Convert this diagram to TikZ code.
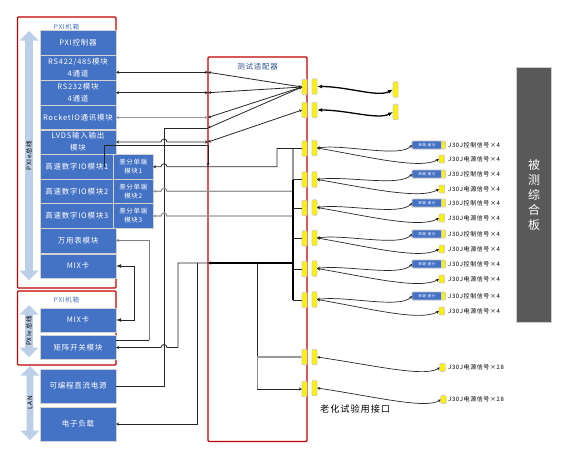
\documentclass[tikz,border=0pt]{standalone}
\usepackage{fontspec}
\setmainfont{Noto Sans CJK SC}[LetterSpace=10]
\usepackage{tikz}
\usetikzlibrary{shapes.arrows,arrows.meta}
\definecolor{modblue}{HTML}{4472C4}
\definecolor{busblue}{HTML}{BBCFE9}
\definecolor{boxred}{HTML}{C00000}
\definecolor{dutgray}{HTML}{595959}

\begin{document}
\begin{tikzpicture}[x=1pt, y=-1pt, >={Stealth[length=3pt,width=3pt]},
  redbox/.style={draw=boxred, line width=1.2pt, rounded corners=1pt, inner sep=0, outer sep=0},
  module/.style={draw=gray!35, line width=0.7pt, fill=modblue, text=white, align=center, inner sep=0, outer sep=0,
    minimum width=76pt, font=\fontsize{7.5}{12}\selectfont},
  diffbox/.style={module, minimum width=39.5pt, minimum height=24.5pt, font=\fontsize{6.5}{9}\selectfont},
  busarrow/.style={double arrow, fill=busblue, rotate=90, inner sep=0, minimum width=19pt, double arrow head extend=4.5pt,
    font=\fontsize{6.5}{8}\selectfont},
  yellowbar/.style={draw=gray!40, line width=0.7pt, fill=yellow, rounded corners=1pt, inner sep=0, outer sep=0, minimum width=5pt, minimum height=15.5pt},
  smallbar/.style={yellowbar, minimum width=5.5pt, minimum height=8pt},
  tailbar/.style={yellowbar, minimum width=4pt, minimum height=8pt},
  convbox/.style={draw=gray!50, line width=0.8pt, fill=modblue, text=white, rounded corners=1pt, inner sep=0, outer sep=0,
    minimum width=30pt, minimum height=8pt, font=\fontsize{3.6}{4}\selectfont},
  siglabel/.style={anchor=west, inner sep=0, font=\fontsize{6}{7}\selectfont},
  title/.style={inner sep=0, text=modblue, font=\fontsize{6.5}{8}\selectfont},
  wire/.style={black!85, line width=0.8pt},
  graywire/.style={gray!80, line width=1.2pt},
  heavywire/.style={black, line width=1.3pt},
  cable/.style={black!85, line width=0.7pt},
  thickcable/.style={black, line width=1.3pt, {Latex[length=5pt]}-{Latex[length=5pt]}}]
\useasboundingbox (0,0) rectangle (569,460);

% Red frames
\node[redbox, minimum width=98.5pt, minimum height=271pt] (chassisA) at (66.75,152.5) {};
\node[redbox, minimum width=98.5pt, minimum height=74pt] (chassisB) at (66.75,328) {};
\node[redbox, minimum width=99pt, minimum height=384.5pt] (adapter) at (257.5,249.25) {};
\node[title] (chassisAtitle) at (66.5,27) {PXI机箱};
\node[title] (chassisBtitle) at (66.5,300) {PXI机箱};
\node[title, text=modblue!70!black, font=\fontsize{7.5}{9}\selectfont] (adaptertitle) at (257.5,67) {测试适配器};

% Bus arrows
\node[busarrow, minimum height=249pt] (busA) at (29,155.5) {PXIe总线};
\node[busarrow, minimum height=52pt] (busB) at (29,331) {PXIe总线};
\node[busarrow, minimum height=74pt] (busC) at (30,403) {LAN};

% Modules
\node[module, minimum height=24.5pt] (ctrl) at (78,43) {PXI控制器};
\node[module, minimum height=24.5pt] (rs422) at (78,67.75) {RS422/485模块\\4通道};
\node[module, minimum height=24.5pt] (rs232) at (78,92.75) {RS232模块\\4通道};
\node[module, minimum height=24pt] (rocket) at (78,117.5) {RocketIO通讯模块};
\node[module, minimum height=24pt] (lvds) at (78,142) {LVDS输入输出\\模块};
\node[module, minimum width=73.5pt, minimum height=24.5pt] (hs1) at (76.75,166.75) {高速数字IO模块1};
\node[module, minimum width=73.5pt, minimum height=24.5pt] (hs2) at (76.75,191.25) {高速数字IO模块2};
\node[module, minimum width=73.5pt, minimum height=24.5pt] (hs3) at (76.75,216) {高速数字IO模块3};
\node[diffbox] (diff1) at (133.25,166.75) {差分单端\\模块1};
\node[diffbox] (diff2) at (133.25,191.25) {差分单端\\模块2};
\node[diffbox] (diff3) at (133.25,216) {差分单端\\模块3};
\node[module, minimum height=25pt] (dmm) at (78,240.5) {万用表模块};
\node[module, minimum height=24pt] (mixA) at (78,266) {MIX卡};
\node[module, minimum height=24pt] (mixB) at (78,320) {MIX卡};
\node[module, minimum height=24pt] (matrix) at (78,347.5) {矩阵开关模块};
\node[module, minimum height=34pt] (psu) at (78,386) {可编程直流电源};
\node[module, minimum height=34pt] (load) at (78,424) {电子负载};

% Unit under test
\node[draw=gray!40, line width=0.7pt, fill=dutgray, text=white, align=center, inner sep=0, minimum width=34.5pt, minimum height=255pt,
  font=\fontsize{12}{15}\selectfont] (dut) at (534,194.5) {被\\测\\综\\合\\板};

% Adapter connectors
\node[yellowbar] (lp1) at (304.5,87) {};
\node[yellowbar] (rp1) at (314.5,86.5) {};
\node[yellowbar] (lp2) at (304.5,110) {};
\node[yellowbar] (rp2) at (314.5,110) {};
\node[yellowbar] (lp3) at (304.5,148.5) {};
\node[yellowbar] (rp3) at (314.5,148) {};
\node[yellowbar] (lp4) at (304.5,179.5) {};
\node[yellowbar] (rp4) at (314.5,179.5) {};
\node[yellowbar] (lp5) at (304.5,208) {};
\node[yellowbar] (rp5) at (314.5,207.5) {};
\node[yellowbar] (lp6) at (304.5,238.5) {};
\node[yellowbar] (rp6) at (314.5,238) {};
\node[yellowbar] (lp7) at (304.5,269) {};
\node[yellowbar] (rp7) at (314.5,268.5) {};
\node[yellowbar] (lp8) at (304.5,300) {};
\node[yellowbar] (rp8) at (314.5,299.5) {};
\node[yellowbar] (lp9) at (304.5,357) {};
\node[yellowbar] (rp9) at (314.5,357) {};
\node[yellowbar] (lp10) at (304.5,389) {};
\node[yellowbar] (rp10) at (314.5,388) {};

% Ports on the adapter wall
\coordinate (port1) at (208,72.25);
\coordinate (port2) at (208,92.75);
\coordinate (port3) at (208,117.5);
\coordinate (port4) at (208,128);
\coordinate (port5) at (208,142);
\coordinate (port6) at (208,145);
\coordinate (port7) at (208,263);
\coordinate (trunk) at (293,148);
\coordinate (drop) at (257,263);
\coordinate (dmmtap) at (149,340);

% Fan from the first connector
\draw[wire,<->] (lp1.west) -- (port1);
\draw[wire,<->] (lp1.west) -- (port2);
\draw[wire,<->] (lp1.west) -- (port3);
\draw[wire,<->] (lp1.west) -- (port4);
\draw[wire,<->] (lp2.west) -- (port5);
\draw[wire,<->] (port1) -- ([yshift=-4.5pt]rs422.east);
\draw[wire,<->] (port2) -- (rs232.east);
\draw[graywire,<->] (port3) -- (rocket.east);

% Supply line, the others hop over it
\draw[wire] (psu.east) -| (164,128) -- (port4);
\draw[wire,<->] (lvds.east) -- (161,142) arc[start angle=180, end angle=0, radius=3pt] -- (port5);
\draw[wire,<-] (diff1.east) -- (161,166.75) arc[start angle=180, end angle=0, radius=3pt] -- (277,166.75) |- (lp3.west);
\draw[wire,->] ([xshift=-9.5pt]hs1.east) |- (port6) -- (208,166);
\draw[graywire,<-] (diff2.east) -- (161,191.25) arc[start angle=180, end angle=0, radius=3pt] -- (diff2.east -| trunk);
\draw[graywire,<-] (diff3.east) -- (161,216) arc[start angle=180, end angle=0, radius=3pt] -- (diff3.east -| trunk);

% Trunk and branches
\draw[graywire] (lp3.west -| trunk) -- (lp4.west -| trunk);
\draw[heavywire] (lp4.west -| trunk) -- (lp8.west -| trunk);
\draw[wire] (lp4.west -| trunk) -- (lp4.west);
\draw[wire] (lp5.west -| trunk) -- (lp5.west);
\draw[wire] (lp6.west -| trunk) -- (lp6.west);
\draw[wire] (lp7.west -| trunk) -- (lp7.west);
\draw[wire] (lp8.west -| trunk) -- (lp8.west);
\draw[heavywire,<-] (port7) -- (port7 -| trunk);

% Lines to the switch, the load and the ageing connectors
\draw[wire,<-] (matrix.east) -- (161,347.5) arc[start angle=180, end angle=0, radius=3pt] -- (178,347.5) |- (port7);
\draw[wire,<-] (load.east) -| (197,263);
\draw[wire] (drop) -- (drop |- lp9.west);
\draw[graywire,->] (drop |- lp9.west) -- (lp9.west);
\draw[wire,gray!90] (drop |- lp9.west) -- (drop |- lp10.west);
\draw[wire,->] (drop |- lp10.west) -- (lp10.west);

% Instrument loops
\draw[wire,gray,line width=1pt,<-] (dmm.east) -| (dmmtap);
\draw[wire] (dmmtap) -- (dmmtap -| matrix.east);
\draw[wire,{Latex[length=5pt]}-{Latex[length=5pt]}] (mixA.east) -| (134.5,320) -- (mixB.east);

% Far end of the first two connectors
\node[yellowbar] (far1) at (395.5,89.5) {};
\node[yellowbar] (far2) at (395.5,112) {};
\draw[thickcable] (rp1.east) .. controls +(30,0) and +(-15,8) .. (far1.west);
\draw[thickcable] (rp2.east) .. controls +(30,0) and +(-15,8) .. (far2.west);

% Row 1
\node[convbox] (conv1) at (427,145) {单端-差分};
\node[tailbar] (tail1) at (443.5,145) {};
\node[siglabel] (ctl1) at (448,145) {J30J控制信号×4};
\node[smallbar] (pwr1) at (441.75,159) {};
\node[siglabel] (sig1) at (448,159) {J30J电源信号×4};
\draw[cable,<->] (rp3.east) .. controls +(28,-4) and +(-12,13) .. (conv1.west);
\draw[cable,<->] (rp3.east) .. controls +(48,8) and +(-19,11) .. (pwr1.west);

% Row 2
\node[convbox] (conv2) at (427,174) {单端-差分};
\node[tailbar] (tail2) at (443.5,174) {};
\node[siglabel] (ctl2) at (448,174) {J30J控制信号×4};
\node[smallbar] (pwr2) at (441.75,189) {};
\node[siglabel] (sig2) at (448,189) {J30J电源信号×4};
\draw[cable,<->] (rp4.east) .. controls +(28,-4) and +(-12,13) .. (conv2.west);
\draw[cable,<->] (rp4.east) .. controls +(48,8) and +(-19,11) .. (pwr2.west);

% Row 3
\node[convbox] (conv3) at (427,203) {单端-差分};
\node[tailbar] (tail3) at (443.5,203) {};
\node[siglabel] (ctl3) at (448,203) {J30J控制信号×4};
\node[smallbar] (pwr3) at (441.75,218) {};
\node[siglabel] (sig3) at (448,218) {J30J电源信号×4};
\draw[cable,<->] (rp5.east) .. controls +(28,-4) and +(-12,13) .. (conv3.west);
\draw[cable,<->] (rp5.east) .. controls +(48,8) and +(-19,11) .. (pwr3.west);

% Row 4
\node[convbox] (conv4) at (427,234) {单端-差分};
\node[tailbar] (tail4) at (443.5,234) {};
\node[siglabel] (ctl4) at (448,234) {J30J控制信号×4};
\node[smallbar] (pwr4) at (441.75,249) {};
\node[siglabel] (sig4) at (448,249) {J30J电源信号×4};
\draw[cable,<->] (rp6.east) .. controls +(28,-4) and +(-12,13) .. (conv4.west);
\draw[cable,<->] (rp6.east) .. controls +(48,8) and +(-19,11) .. (pwr4.west);

% Row 5
\node[convbox] (conv5) at (427,264) {单端-差分};
\node[tailbar] (tail5) at (443.5,264) {};
\node[siglabel] (ctl5) at (448,264) {J30J控制信号×4};
\node[smallbar] (pwr5) at (441.75,279) {};
\node[siglabel] (sig5) at (448,279) {J30J电源信号×4};
\draw[cable,<->] (rp7.east) .. controls +(28,-4) and +(-12,13) .. (conv5.west);
\draw[cable,<->] (rp7.east) .. controls +(48,8) and +(-19,11) .. (pwr5.west);

% Row 6
\node[convbox] (conv6) at (427,296) {单端-差分};
\node[tailbar] (tail6) at (443.5,296) {};
\node[siglabel] (ctl6) at (448,296) {J30J控制信号×4};
\node[smallbar] (pwr6) at (441.75,311) {};
\node[siglabel] (sig6) at (448,311) {J30J电源信号×4};
\draw[cable,<->] (rp8.east) .. controls +(28,-4) and +(-12,13) .. (conv6.west);
\draw[cable,<->] (rp8.east) .. controls +(48,8) and +(-19,11) .. (pwr6.west);

% Ageing outputs
\node[smallbar] (age1) at (442.5,367.5) {};
\node[siglabel] (agelabel1) at (448,367.5) {J30J电源信号×28};
\node[smallbar] (age2) at (443.5,399.5) {};
\node[siglabel] (agelabel2) at (448,399.5) {J30J电源信号×28};
\draw[cable,<->] (rp9.east) .. controls +(55,8) and +(-15,10) .. (age1.west);
\draw[cable,<->] (rp10.east) .. controls +(55,8) and +(-15,10) .. (age2.west);
\node[inner sep=0, anchor=west, font=\fontsize{9.2}{11}\selectfont] (agetitle) at (320,409) {老化试验用接口};

\end{tikzpicture}
\end{document}
